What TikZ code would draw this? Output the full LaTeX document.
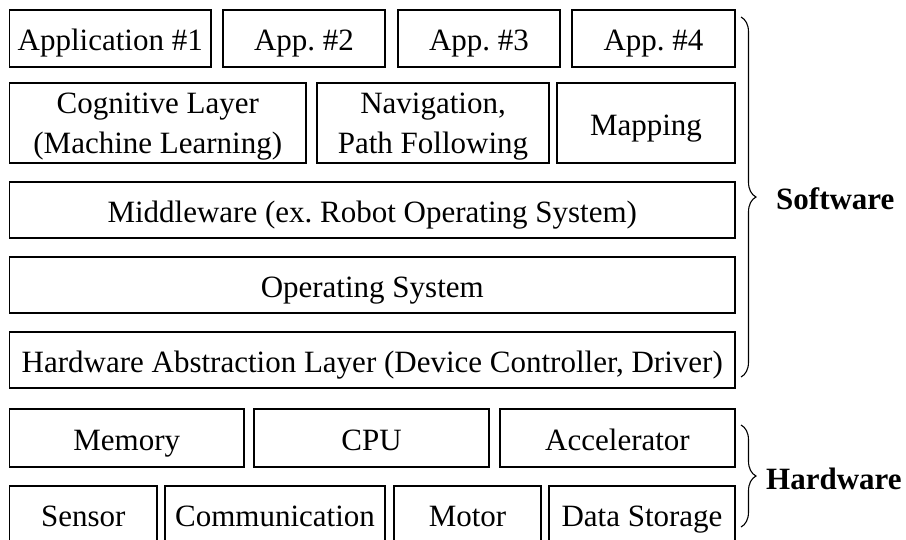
\documentclass[tikz,border=0pt]{standalone}
\usepackage{fontspec}
\setmainfont{Liberation Serif}
\usetikzlibrary{decorations.pathreplacing}
\frenchspacing
\begin{document}
\begin{tikzpicture}[x=1pt,y=-1pt,
  blk/.style={draw, line width=1.4pt, inner sep=0pt, align=center,
    font=\fontsize{31}{40}\selectfont\frenchspacing, text height=24pt, text depth=0pt},
  two/.style={text height=60pt, text depth=0pt},
  brc/.style={decorate, line width=1.1pt,
    decoration={brace, amplitude=15pt, aspect=0.5}},
  lbl/.style={anchor=west, inner sep=0pt, font=\fontsize{31}{36}\selectfont\bfseries}]
\useasboundingbox (0,0) rectangle (906,539);
\clip (0,0) rectangle (906,539);
% applications
\node[blk, minimum width=201.5pt, minimum height=57pt] (app1) at (110.25,38.5) {Application \#1};
\node[blk, minimum width=162pt, minimum height=57pt] (app2) at (304,38.5) {App. \#2};
\node[blk, minimum width=162pt, minimum height=57pt] (app3) at (479,38.5) {App. \#3};
\node[blk, minimum width=163pt, minimum height=57pt] (app4) at (653.5,38.5) {App. \#4};
% functional layer
\node[blk, two, minimum width=296.5pt, minimum height=80pt] (cog) at (157.75,123) {Cognitive Layer\\(Machine Learning)};
\node[blk, two, minimum width=232pt, minimum height=80pt] (nav) at (433,123) {Navigation,\\Path Following};
\node[blk, minimum width=178pt, minimum height=80pt] (map) at (646,123) {Mapping};
% system layers
\node[blk, minimum width=725.5pt, minimum height=56pt] (mw) at (372.25,210) {Middleware (ex. Robot Operating System)};
\node[blk, minimum width=725.5pt, minimum height=56pt] (os) at (372.25,285) {Operating System};
\node[blk, minimum width=725.5pt, minimum height=56pt] (hal) at (372.25,360) {Hardware Abstraction Layer (Device Controller, Driver)};
% hardware
\node[blk, minimum width=234.5pt, minimum height=58pt] (mem) at (126.75,438) {Memory};
\node[blk, minimum width=235pt, minimum height=58pt] (cpu) at (371.5,438) {CPU};
\node[blk, minimum width=235pt, minimum height=58pt] (acc) at (617.5,438) {Accelerator};
\node[blk, minimum width=147.5pt, minimum height=57pt] (sen) at (83.25,514.5) {Sensor};
\node[blk, minimum width=220pt, minimum height=57pt] (com) at (275,514.5) {Communication};
\node[blk, minimum width=147pt, minimum height=57pt] (mot) at (467.5,514.5) {Motor};
\node[blk, minimum width=186pt, minimum height=57pt] (dat) at (642,514.5) {Data Storage};
% braces
\coordinate (swtop) at (741,17);
\coordinate (swbot) at (741,377);
\coordinate (hwtop) at (741,425);
\coordinate (hwbot) at (741,527);
\draw[brc] (swtop) -- (swbot);
\draw[brc] (hwtop) -- (hwbot);
\node[lbl] (sw) at (776,199) {Software};
\node[lbl] (hw) at (766,479) {Hardware};
\end{tikzpicture}
\end{document}
